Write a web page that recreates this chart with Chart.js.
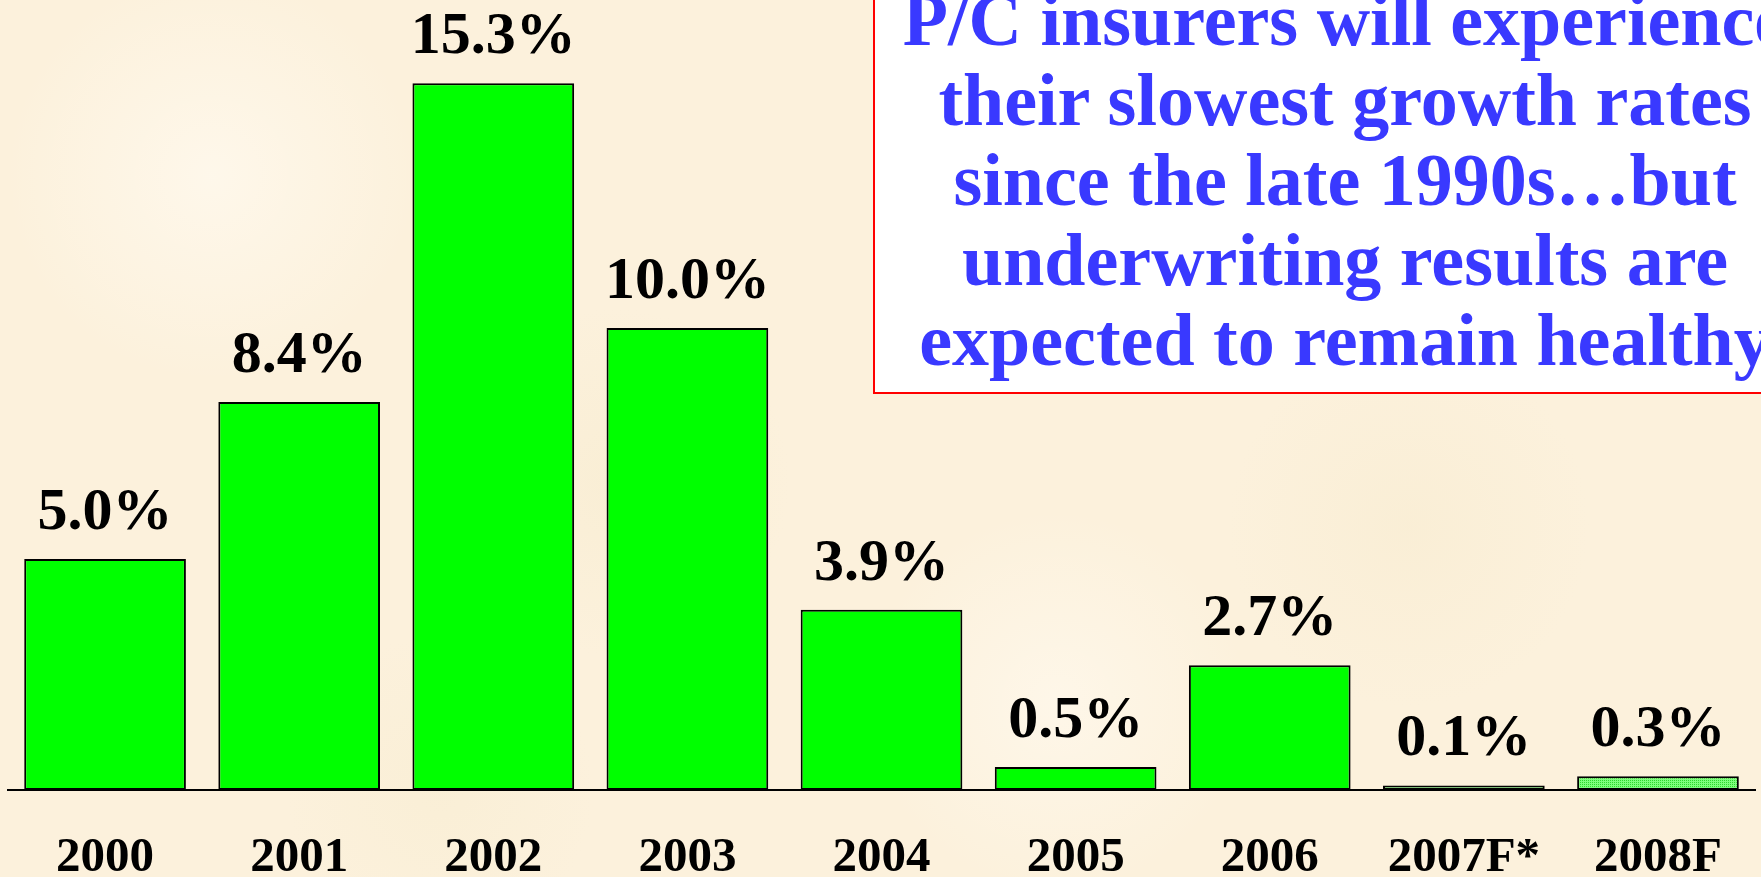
<!DOCTYPE html>
<html>
<head>
<meta charset="utf-8">
<script src="https://cdn.jsdelivr.net/npm/chart.js@4.4.1/dist/chart.umd.min.js"></script>
<style>
  html, body { margin: 0; padding: 0; }
  body {
    width: 1761px; height: 877px; overflow: hidden; position: relative;
    background-color: #fcf1dc;
    background-image:
      radial-gradient(circle at 12% 20%, rgba(255,249,238,0.8) 0, rgba(255,249,238,0) 12%),
      radial-gradient(circle at 35% 55%, rgba(247,236,208,0.6) 0, rgba(247,236,208,0) 14%),
      radial-gradient(circle at 60% 80%, rgba(255,249,238,0.7) 0, rgba(255,249,238,0) 15%),
      radial-gradient(circle at 80% 60%, rgba(247,235,207,0.5) 0, rgba(247,235,207,0) 12%),
      radial-gradient(circle at 25% 90%, rgba(248,237,210,0.6) 0, rgba(248,237,210,0) 10%);
  }
  #wrap { position: absolute; left: 0; top: 0; width: 1761px; height: 877px; }
  #note {
    position: absolute; left: 873px; top: -22px; width: 944px; height: 416px;
    box-sizing: border-box; border: 2px solid #ff0000; background: #ffffff;
    font-family: "Liberation Serif", "Times New Roman", serif; font-weight: bold;
    font-size: 74px; line-height: 80px; color: #3939ff; text-align: center;
    white-space: nowrap;
  }
</style>
</head>
<body>
<div id="wrap"><canvas id="myChart" width="1761" height="877"></canvas></div>
<div id="note">P/C insurers will experience<br>their slowest growth rates<br>since the late 1990s…but<br>underwriting results are<br>expected to remain healthy</div>
<script>
window.onload = () => {

    const years = ['2000', '2001', '2002', '2003', '2004', '2005', '2006', '2007F*', '2008F'];
    const growth = [5.0, 8.4, 15.3, 10.0, 3.9, 0.5, 2.7, 0.1, 0.3];
    const forecast = [false, false, false, false, false, false, false, true, true];

    // dotted light green fill for the forecast years
    const pc = document.createElement('canvas');
    pc.width = 4; pc.height = 4;
    const p = pc.getContext('2d');
    p.fillStyle = '#7dff7d';
    p.fillRect(0, 0, 4, 4);
    p.fillStyle = '#2fd62f';
    p.fillRect(0, 0, 1, 1); p.fillRect(2, 2, 1, 1);
    p.fillRect(2, 0, 1, 1); p.fillRect(0, 2, 1, 1);
    const ctx = document.getElementById('myChart').getContext('2d');
    const dots = ctx.createPattern(pc, 'repeat');

    const valueLabels = {
        id: 'valueLabels',
        afterDatasetsDraw(chart) {
            const c = chart.ctx;
            const meta = chart.getDatasetMeta(0);
            c.save();
            c.font = 'bold 60px "Liberation Serif", "Times New Roman", serif';
            c.fillStyle = '#000';
            c.textAlign = 'center';
            c.textBaseline = 'alphabetic';
            meta.data.forEach((bar, i) => {
                c.fillText(growth[i].toFixed(1) + '%', bar.x, bar.y - 30);
            });
            c.restore();
        }
    };

    new Chart(ctx, {
        type: 'bar',
        data: {
            labels: years,
            datasets: [{
                data: growth,
                backgroundColor: forecast.map(f => f ? dots : '#00ff00'),
                borderColor: '#000',
                borderWidth: 2,
                borderSkipped: false,
                categoryPercentage: 1.0,
                barPercentage: 0.833
            }]
        },
        options: {
            responsive: false,
            animation: false,
            layout: { padding: { left: 8, right: 1, top: 0, bottom: 0 } },
            plugins: { legend: { display: false }, tooltip: { enabled: false } },
            scales: {
                x: {
                    grid: { display: false, drawTicks: false },
                    border: { display: true, color: '#000', width: 2 },
                    ticks: {
                        color: '#000',
                        padding: 39,
                        font: { family: '"Liberation Serif", "Times New Roman", serif', weight: 'bold', size: 49 }
                    },
                    afterFit: (s) => { s.height = 87; }
                },
                y: {
                    display: false,
                    min: 0,
                    max: 17.1
                }
            }
        },
        plugins: [valueLabels]
    });
}
</script>
</body>
</html>
